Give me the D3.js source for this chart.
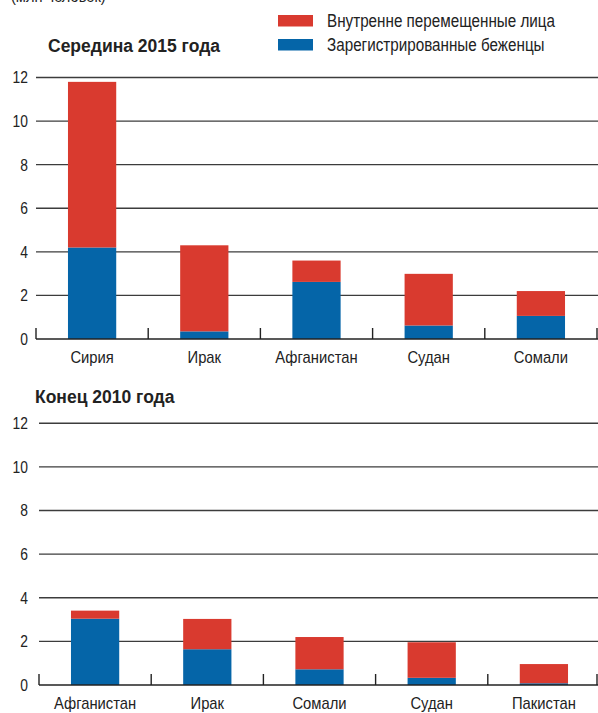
<!DOCTYPE html>
<html lang="ru">
<head>
<meta charset="UTF-8">
<title>Беженцы и внутренне перемещенные лица</title>
<script src="https://d3js.org/d3.v7.min.js"></script>
<style>
  body { margin: 0; background: #fff; }
  svg { display: block; font-family: "Liberation Sans", Arial, sans-serif; }
</style>
</head>
<body>
<div id="chart"></div>
<script>
// данные, млн человек
var countries2015 = ["Сирия", "Ирак", "Афганистан", "Судан", "Сомали"];
var refugees2015  = [4.2, 0.35, 2.62, 0.62, 1.06];
var idp2015       = [7.6, 3.95, 0.98, 2.37, 1.14];

var countries2010 = ["Афганистан", "Ирак", "Сомали", "Судан", "Пакистан"];
var refugees2010  = [3.04, 1.64, 0.72, 0.33, 0.08];
var idp2010       = [0.37, 1.39, 1.48, 1.63, 0.88];

var yTicks = [0, 2, 4, 6, 8, 10, 12];
var seriesNames = ["Внутренне перемещенные лица", "Зарегистрированные беженцы"];
var colors = ["#d93a2f", "#0565a8"];

var width = 598, height = 713;

// узкий шрифт оригинала: сжимаем текст по ширине
function condense(sel, k) {
  sel.each(function () {
    var len = this.getComputedTextLength();
    d3.select(this).attr("textLength", len * k).attr("lengthAdjust", "spacingAndGlyphs");
  });
}

var svg = d3.select("#chart").append("svg")
  .attr("width", width)
  .attr("height", height);

// единицы, обрезаны сверху
svg.append("text")
  .attr("x", 11).attr("y", 2)
  .attr("font-size", 17)
  .attr("fill", "#222")
  .text("(млн человек)")
  .call(condense, 0.86);

// легенда
var legend = svg.append("g");
seriesNames.forEach(function (name, i) {
  var g = legend.append("g").attr("transform", "translate(278," + (15 + i * 24) + ")");
  g.append("rect").attr("width", 35).attr("height", 11.5).attr("fill", colors[i]);
  g.append("text").attr("x", 49).attr("y", 12)
    .attr("font-size", 17.5).attr("fill", "#222").text(name)
    .call(condense, 0.87);
});

function drawPanel(opts) {
  var cats = opts.cats;
  var stacked = cats.map(function (c, i) {
    return { cat: c, ref: opts.ref[i], idp: opts.idp[i] };
  });

  var x = d3.scaleBand().domain(cats).range([opts.left, opts.right]);
  var y = d3.scaleLinear().domain([0, 12]).range([opts.bottom, opts.top]);

  var g = svg.append("g");

  // заголовок
  g.append("text")
    .attr("x", opts.titleX).attr("y", opts.titleY)
    .attr("font-size", 17.5).attr("font-weight", "bold").attr("fill", "#222")
    .text(opts.title);

  // сетка
  g.selectAll(".grid").data(yTicks.filter(function (t) { return t > 0; }))
    .enter().append("line")
    .attr("x1", opts.left).attr("x2", width)
    .attr("y1", function (d) { return y(d); })
    .attr("y2", function (d) { return y(d); })
    .attr("stroke", "#3c3c3c").attr("stroke-width", 1.4);

  // подписи оси Y
  g.selectAll(".ylab").data(yTicks).enter().append("text")
    .attr("x", 28).attr("y", function (d) { return y(d); })
    .attr("dy", "0.36em").attr("text-anchor", "end")
    .attr("font-size", 16.3).attr("fill", "#222")
    .text(function (d) { return d; })
    .call(condense, 0.85);

  // столбцы
  var bw = x.bandwidth() * 0.43;
  var off = (x.bandwidth() - bw) / 2;
  var bars = g.selectAll(".bar").data(stacked).enter().append("g");
  bars.append("rect")
    .attr("x", function (d) { return x(d.cat) + off; })
    .attr("width", bw)
    .attr("y", function (d) { return y(d.ref); })
    .attr("height", function (d) { return y(0) - y(d.ref); })
    .attr("fill", colors[1]);
  bars.append("rect")
    .attr("x", function (d) { return x(d.cat) + off; })
    .attr("width", bw)
    .attr("y", function (d) { return y(d.ref + d.idp); })
    .attr("height", function (d) { return y(d.ref) - y(d.ref + d.idp); })
    .attr("fill", colors[0]);

  // ось X
  var axis = d3.axisBottom(x).tickSize(0).tickPadding(12);
  var ax = g.append("g").attr("transform", "translate(0," + opts.bottom + ")").call(axis);
  ax.select(".domain").remove();
  ax.selectAll("text").attr("font-size", 17).attr("fill", "#222")
    .attr("font-family", "Liberation Sans, Arial, sans-serif")
    .call(condense, 0.87);

  g.append("line")
    .attr("x1", opts.left).attr("x2", width)
    .attr("y1", y(0)).attr("y2", y(0))
    .attr("stroke", "#222").attr("stroke-width", 1.4);

  // разделители категорий
  var bounds = cats.map(function (c) { return x(c); }).concat([opts.right]);
  g.selectAll(".sep").data(bounds).enter().append("line")
    .attr("x1", function (d) { return Math.min(d, width - 1); })
    .attr("x2", function (d) { return Math.min(d, width - 1); })
    .attr("y1", y(0)).attr("y2", y(0) - 11)
    .attr("stroke", "#222").attr("stroke-width", 1.4);
}

drawPanel({
  title: "Середина 2015 года", titleX: 48, titleY: 52,
  cats: countries2015, ref: refugees2015, idp: idp2015,
  left: 36, right: 597, top: 77.5, bottom: 339
});

drawPanel({
  title: "Конец 2010 года", titleX: 35, titleY: 403,
  cats: countries2010, ref: refugees2010, idp: idp2010,
  left: 39, right: 600, top: 423.3, bottom: 685
});
</script>
</body>
</html>
